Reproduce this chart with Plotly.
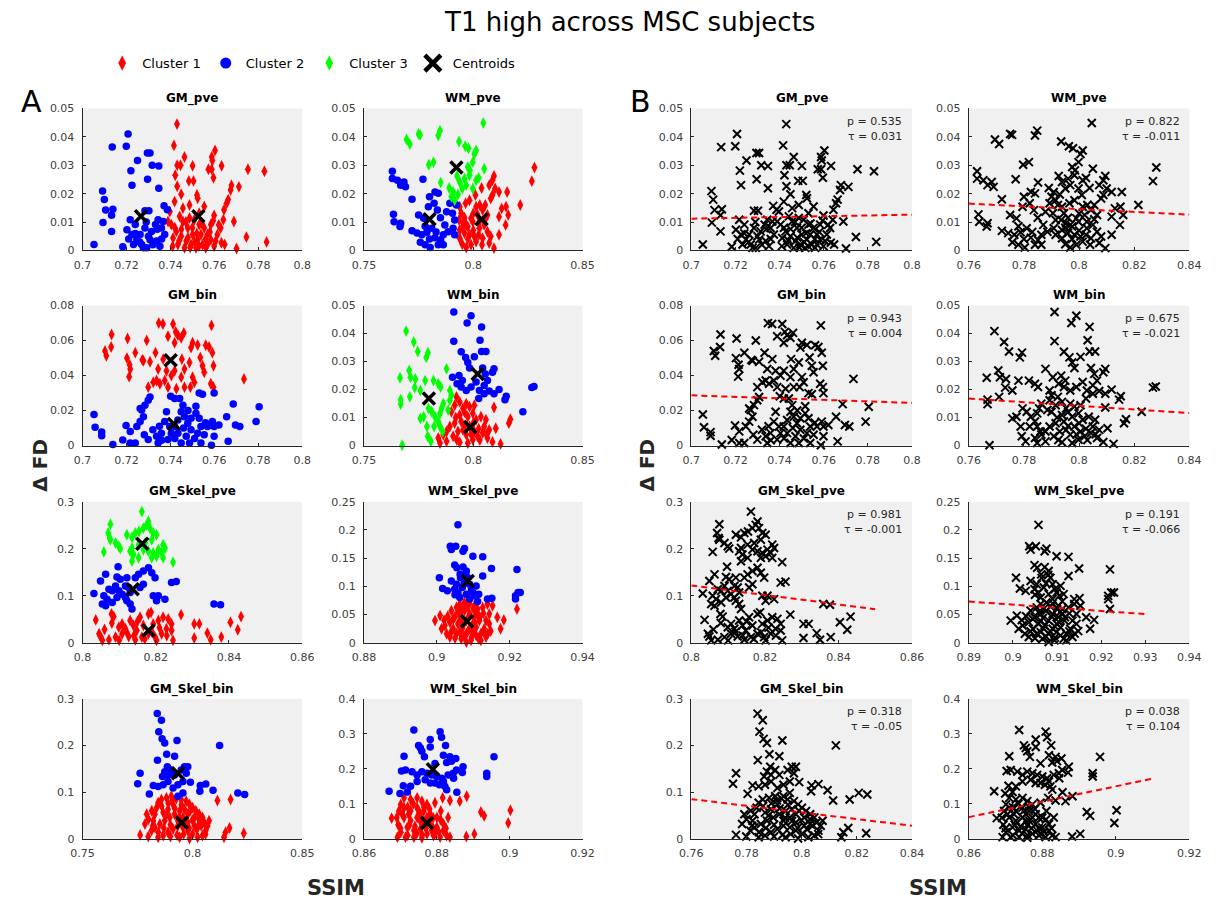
import plotly.graph_objects as go

W, H = 1220, 901

# ---------------- data (SSIM, delta FD) ----------------
GM_pve_c1 = [(0.7430,0.0445),(0.7416,0.0370),(0.7603,0.0352),(0.7588,0.0329),(0.7591,0.0317),(0.7464,0.0329),(0.7431,0.0300),(0.7446,0.0300),(0.7501,0.0298),(0.7573,0.0286),(0.7588,0.0286),(0.7633,0.0298),(0.7596,0.0256),(0.7753,0.0286),(0.7828,0.0279),(0.7422,0.0265),(0.7484,0.0245),(0.7505,0.0245),(0.7431,0.0226),(0.7678,0.0230),(0.7674,0.0213),(0.7712,0.0224),(0.7449,0.0198),(0.7521,0.0195),(0.7524,0.0184),(0.7663,0.0179),(0.7656,0.0166),(0.7419,0.0172),(0.7487,0.0160),(0.7554,0.0155),(0.7644,0.0143),(0.7457,0.0149),(0.7599,0.0123),(0.7531,0.0131),(0.7397,0.0137),(0.7641,0.0108),(0.7689,0.0102),(0.7584,0.0091),(0.7629,0.0079),(0.7404,0.0091),(0.7427,0.0067),(0.7449,0.0050),(0.7472,0.0033),(0.7494,0.0021),(0.7516,0.0009),(0.7412,0.0044),(0.7434,0.0021),(0.7464,0.0009),(0.7389,0.0102),(0.7457,0.0102),(0.7479,0.0079),(0.7501,0.0056),(0.7524,0.0038),(0.7546,0.0021),(0.7569,0.0056),(0.7554,0.0079),(0.7531,0.0091),(0.7509,0.0108),(0.7487,0.0114),(0.7442,0.0120),(0.7614,0.0056),(0.7606,0.0033),(0.7599,0.0015),(0.7584,0.0038),(0.7569,0.0021),(0.7632,0.0027),(0.7561,0.0009),(0.7539,0.0056),(0.7746,0.0047),(0.7838,0.0030),(0.7701,0.0007),(0.7647,0.0021),(0.7420,0.0080),(0.7440,0.0035),(0.7480,0.0045),(0.7500,0.0080),(0.7520,0.0060),(0.7540,0.0095),(0.7560,0.0040),(0.7580,0.0065),(0.7595,0.0105),(0.7620,0.0090),(0.7470,0.0100),(0.7490,0.0010),(0.7530,0.0015),(0.7410,0.0015),(0.7450,0.0075),(0.7510,0.0030)]
GM_pve_c2 = [(0.7207,0.0410),(0.7199,0.0367),(0.7135,0.0364),(0.7295,0.0343),(0.7307,0.0343),(0.7250,0.0317),(0.7317,0.0300),(0.7347,0.0297),(0.7220,0.0281),(0.7296,0.0251),(0.7225,0.0230),(0.7347,0.0219),(0.7091,0.0209),(0.7099,0.0179),(0.7371,0.0157),(0.7386,0.0143),(0.7105,0.0142),(0.7138,0.0145),(0.7132,0.0124),(0.7284,0.0140),(0.7302,0.0140),(0.7093,0.0098),(0.7132,0.0067),(0.7052,0.0021),(0.7183,0.0013),(0.7217,0.0108),(0.7240,0.0091),(0.7202,0.0073),(0.7225,0.0056),(0.7247,0.0038),(0.7269,0.0021),(0.7292,0.0009),(0.7314,0.0067),(0.7332,0.0091),(0.7344,0.0108),(0.7367,0.0102),(0.7374,0.0056),(0.7337,0.0033),(0.7352,0.0015),(0.7307,0.0038),(0.7262,0.0056),(0.7284,0.0079),(0.7232,0.0021),(0.7359,0.0079),(0.7277,0.0009),(0.7240,0.0060),(0.7260,0.0030),(0.7300,0.0050),(0.7320,0.0020),(0.7340,0.0075),(0.7210,0.0040),(0.7290,0.0100),(0.7360,0.0040)]
GM_pve_cent = [(0.7527,0.0120),(0.7266,0.0120)]

WM_pve_c1 = [(0.8280,0.0292),(0.8268,0.0244),(0.8215,0.0160),(0.8095,0.0262),(0.8088,0.0247),(0.8073,0.0230),(0.8100,0.0218),(0.8118,0.0206),(0.8088,0.0195),(0.8080,0.0183),(0.8038,0.0220),(0.8010,0.0195),(0.7983,0.0177),(0.7965,0.0166),(0.8155,0.0206),(0.8150,0.0154),(0.8130,0.0148),(0.8160,0.0125),(0.8118,0.0119),(0.8148,0.0090),(0.8118,0.0055),(0.8055,0.0160),(0.8043,0.0142),(0.8065,0.0125),(0.8013,0.0154),(0.8020,0.0125),(0.7990,0.0113),(0.7938,0.0154),(0.7945,0.0131),(0.7935,0.0107),(0.7953,0.0096),(0.7975,0.0084),(0.7938,0.0072),(0.7960,0.0061),(0.7983,0.0055),(0.8005,0.0049),(0.8028,0.0078),(0.8050,0.0090),(0.8065,0.0066),(0.8080,0.0049),(0.8043,0.0043),(0.8013,0.0031),(0.7990,0.0020),(0.7968,0.0010),(0.7950,0.0022),(0.8073,0.0026),(0.8095,0.0008),(0.7938,0.0043),(0.7968,0.0090),(0.7998,0.0101),(0.8028,0.0101),(0.7950,0.0080),(0.7975,0.0040),(0.8000,0.0070),(0.8025,0.0055),(0.8040,0.0020),(0.8055,0.0110),(0.8000,0.0130),(0.7960,0.0115),(0.8030,0.0160)]
WM_pve_c2 = [(0.7630,0.0279),(0.7630,0.0253),(0.7653,0.0247),(0.7683,0.0241),(0.7668,0.0230),(0.7690,0.0224),(0.7770,0.0251),(0.7720,0.0180),(0.7825,0.0206),(0.7840,0.0201),(0.7800,0.0189),(0.7821,0.0166),(0.7795,0.0154),(0.7836,0.0142),(0.7635,0.0127),(0.7638,0.0101),(0.7668,0.0096),(0.7665,0.0084),(0.7750,0.0125),(0.7773,0.0113),(0.7720,0.0069),(0.7743,0.0061),(0.7765,0.0055),(0.7788,0.0064),(0.7810,0.0078),(0.7758,0.0029),(0.7780,0.0020),(0.7803,0.0010),(0.7840,0.0020),(0.7851,0.0037),(0.7825,0.0045),(0.7863,0.0055),(0.7885,0.0066),(0.7908,0.0078),(0.7915,0.0107),(0.7905,0.0131),(0.7878,0.0136),(0.7893,0.0166),(0.7923,0.0160),(0.7915,0.0055),(0.7863,0.0020),(0.7800,0.0040),(0.7830,0.0065),(0.7870,0.0090),(0.7850,0.0115),(0.7780,0.0085)]
WM_pve_c3 = [(0.8046,0.0449),(0.7848,0.0422),(0.7840,0.0405),(0.7750,0.0410),(0.7757,0.0407),(0.7695,0.0391),(0.7710,0.0375),(0.7935,0.0384),(0.7963,0.0367),(0.7978,0.0360),(0.8013,0.0352),(0.8005,0.0340),(0.7797,0.0302),(0.7818,0.0311),(0.7998,0.0311),(0.8050,0.0288),(0.7975,0.0294),(0.7985,0.0282),(0.7926,0.0262),(0.8025,0.0255),(0.8013,0.0247),(0.7851,0.0239),(0.7938,0.0241),(0.7968,0.0230),(0.7890,0.0220),(0.7908,0.0206),(0.7900,0.0189),(0.7915,0.0177),(0.7950,0.0218),(0.7960,0.0253),(0.7983,0.0265),(0.7998,0.0218),(0.7930,0.0197)]
WM_pve_cent = [(0.8038,0.0110),(0.7800,0.0110),(0.7923,0.0292)]

GM_bin_c1 = [(0.7347,0.0700),(0.7366,0.0695),(0.7412,0.0695),(0.7587,0.0687),(0.7132,0.0635),(0.7424,0.0650),(0.7434,0.0631),(0.7461,0.0644),(0.7449,0.0616),(0.7419,0.0588),(0.7389,0.0625),(0.7205,0.0612),(0.7292,0.0601),(0.7102,0.0541),(0.7108,0.0513),(0.7130,0.0563),(0.7240,0.0531),(0.7272,0.0490),(0.7277,0.0485),(0.7307,0.0479),(0.7332,0.0531),(0.7202,0.0500),(0.7214,0.0462),(0.7217,0.0438),(0.7212,0.0394),(0.7501,0.0588),(0.7494,0.0560),(0.7524,0.0575),(0.7561,0.0573),(0.7576,0.0563),(0.7591,0.0531),(0.7536,0.0503),(0.7546,0.0456),(0.7554,0.0419),(0.7596,0.0456),(0.7487,0.0475),(0.7464,0.0438),(0.7449,0.0391),(0.7404,0.0400),(0.7382,0.0428),(0.7374,0.0372),(0.7352,0.0353),(0.7322,0.0362),(0.7299,0.0334),(0.7337,0.0372),(0.7389,0.0334),(0.7427,0.0325),(0.7464,0.0334),(0.7501,0.0391),(0.7509,0.0362),(0.7491,0.0334),(0.7596,0.0334),(0.7584,0.0353),(0.7452,0.0494),(0.7419,0.0428),(0.7367,0.0494),(0.7344,0.0438),(0.7735,0.0381)]
GM_bin_c2 = [(0.7052,0.0178),(0.7057,0.0105),(0.7087,0.0077),(0.7087,0.0056),(0.7138,0.0006),(0.7183,0.0032),(0.7198,0.0115),(0.7217,0.0081),(0.7217,0.0015),(0.7240,0.0015),(0.7247,0.0109),(0.7262,0.0137),(0.7277,0.0165),(0.7269,0.0203),(0.7262,0.0212),(0.7299,0.0259),(0.7307,0.0278),(0.7284,0.0231),(0.7281,0.0062),(0.7299,0.0034),(0.7337,0.0053),(0.7344,0.0015),(0.7359,0.0071),(0.7389,0.0034),(0.7404,0.0071),(0.7397,0.0109),(0.7374,0.0137),(0.7382,0.0193),(0.7401,0.0282),(0.7419,0.0269),(0.7442,0.0269),(0.7457,0.0231),(0.7449,0.0193),(0.7464,0.0165),(0.7479,0.0128),(0.7494,0.0090),(0.7472,0.0053),(0.7449,0.0015),(0.7487,0.0015),(0.7434,0.0071),(0.7419,0.0109),(0.7434,0.0146),(0.7494,0.0156),(0.7516,0.0225),(0.7516,0.0184),(0.7531,0.0156),(0.7539,0.0109),(0.7524,0.0071),(0.7554,0.0062),(0.7569,0.0109),(0.7591,0.0137),(0.7599,0.0109),(0.7599,0.0053),(0.7539,0.0015),(0.7587,0.0002),(0.7531,0.0300),(0.7546,0.0293),(0.7599,0.0300),(0.7621,0.0118),(0.7656,0.0165),(0.7663,0.0024),(0.7686,0.0237),(0.7696,0.0118),(0.7716,0.0109),(0.7790,0.0137),(0.7804,0.0222),(0.7320,0.0090),(0.7360,0.0030),(0.7420,0.0040),(0.7460,0.0100),(0.7510,0.0040),(0.7480,0.0200),(0.7350,0.0110),(0.7560,0.0130)]
GM_bin_cent = [(0.7401,0.0488),(0.7416,0.0124)]

WM_bin_c1 = [(0.7923,0.0174),(0.7938,0.0156),(0.7953,0.0133),(0.7968,0.0150),(0.7915,0.0144),(0.7900,0.0121),(0.7938,0.0109),(0.7983,0.0139),(0.8005,0.0144),(0.7998,0.0115),(0.7975,0.0103),(0.7945,0.0086),(0.7915,0.0080),(0.7893,0.0068),(0.7878,0.0050),(0.7863,0.0039),(0.7840,0.0027),(0.7848,0.0009),(0.7878,0.0015),(0.7908,0.0033),(0.7930,0.0050),(0.7953,0.0056),(0.7983,0.0068),(0.8013,0.0092),(0.8035,0.0103),(0.8058,0.0092),(0.8050,0.0068),(0.8073,0.0056),(0.8043,0.0045),(0.8020,0.0033),(0.7998,0.0021),(0.7975,0.0009),(0.7938,0.0012),(0.7968,0.0039),(0.8005,0.0050),(0.8065,0.0027),(0.8088,0.0013),(0.8125,0.0006),(0.8095,0.0136),(0.8170,0.0094),(0.8163,0.0080),(0.8103,0.0062),(0.7920,0.0100),(0.7960,0.0070),(0.7990,0.0040),(0.8025,0.0060),(0.8000,0.0080),(0.7925,0.0020),(0.7960,0.0120),(0.8030,0.0020),(0.8060,0.0040)]
WM_bin_c2 = [(0.7911,0.0477),(0.7990,0.0464),(0.7972,0.0438),(0.8038,0.0424),(0.7911,0.0373),(0.8031,0.0376),(0.8038,0.0336),(0.8058,0.0336),(0.7945,0.0335),(0.7965,0.0315),(0.7975,0.0297),(0.8005,0.0317),(0.7983,0.0277),(0.8043,0.0277),(0.8055,0.0256),(0.8095,0.0274),(0.8088,0.0262),(0.8065,0.0232),(0.8050,0.0215),(0.7905,0.0244),(0.7935,0.0250),(0.7950,0.0232),(0.7926,0.0221),(0.7945,0.0209),(0.7968,0.0197),(0.7990,0.0209),(0.8013,0.0227),(0.8028,0.0197),(0.8025,0.0168),(0.8050,0.0185),(0.8073,0.0195),(0.8095,0.0185),(0.8118,0.0200),(0.8151,0.0176),(0.8145,0.0164),(0.8227,0.0121),(0.8268,0.0207),(0.8278,0.0211)]
WM_bin_c3 = [(0.7693,0.0409),(0.7728,0.0370),(0.7746,0.0336),(0.7785,0.0315),(0.7793,0.0332),(0.7878,0.0274),(0.7707,0.0268),(0.7713,0.0244),(0.7735,0.0238),(0.7665,0.0242),(0.7732,0.0207),(0.7758,0.0197),(0.7780,0.0232),(0.7818,0.0232),(0.7840,0.0221),(0.7851,0.0209),(0.7710,0.0174),(0.7668,0.0164),(0.7668,0.0148),(0.7893,0.0197),(0.7900,0.0180),(0.7893,0.0162),(0.7863,0.0150),(0.7855,0.0133),(0.7885,0.0127),(0.7848,0.0115),(0.7825,0.0103),(0.7840,0.0086),(0.7821,0.0068),(0.7788,0.0068),(0.7758,0.0097),(0.7773,0.0103),(0.7795,0.0133),(0.7810,0.0121),(0.7848,0.0068),(0.7860,0.0050),(0.7792,0.0033),(0.7806,0.0015),(0.7675,0.0001)]
WM_bin_cent = [(0.7986,0.0066),(0.8020,0.0256),(0.7797,0.0168)]

GM_Skel_pve_c1 = [(0.8036,0.0485),(0.8079,0.0611),(0.8085,0.0555),(0.8180,0.0611),(0.8187,0.0646),(0.8157,0.0541),(0.8130,0.0471),(0.8108,0.0400),(0.8099,0.0330),(0.8117,0.0295),(0.8139,0.0365),(0.8148,0.0260),(0.8166,0.0365),(0.8193,0.0400),(0.8207,0.0471),(0.8220,0.0541),(0.8234,0.0506),(0.8243,0.0400),(0.8229,0.0295),(0.8216,0.0190),(0.8198,0.0119),(0.8180,0.0190),(0.8162,0.0119),(0.8144,0.0063),(0.8126,0.0133),(0.8108,0.0190),(0.8090,0.0119),(0.8072,0.0063),(0.8049,0.0133),(0.8045,0.0190),(0.8054,0.0049),(0.8243,0.0260),(0.8247,0.0049),(0.8202,0.0049),(0.8269,0.0597),(0.8305,0.0400),(0.8319,0.0400),(0.8305,0.0098),(0.8341,0.0204),(0.8350,0.0063),(0.8379,0.0119),(0.8404,0.0436),(0.8433,0.0555),(0.8424,0.0274),(0.8100,0.0050),(0.8120,0.0230),(0.8140,0.0150),(0.8170,0.0080),(0.8190,0.0220),(0.8210,0.0320),(0.8150,0.0450),(0.8060,0.0280),(0.8080,0.0420),(0.8230,0.0150)]
GM_Skel_pve_c2 = [(0.8097,0.1616),(0.8063,0.1454),(0.8049,0.1314),(0.8031,0.1047),(0.8094,0.1398),(0.8103,0.1349),(0.8121,0.1384),(0.8117,0.1208),(0.8126,0.1173),(0.8090,0.1208),(0.8081,0.1103),(0.8072,0.1138),(0.8058,0.0998),(0.8067,0.0927),(0.8054,0.0822),(0.8063,0.0787),(0.8081,0.0857),(0.8094,0.0963),(0.8108,0.1033),(0.8117,0.0963),(0.8099,0.1103),(0.8130,0.1068),(0.8130,0.0822),(0.8135,0.0717),(0.8121,0.0892),(0.8144,0.1384),(0.8153,0.1454),(0.8166,0.1525),(0.8180,0.1595),(0.8189,0.1490),(0.8198,0.1384),(0.8166,0.1244),(0.8157,0.1173),(0.8193,0.0998),(0.8207,0.0998),(0.8202,0.0892),(0.8225,0.0927),(0.8243,0.1279),(0.8256,0.1300),(0.8359,0.0822),(0.8377,0.0808)]
GM_Skel_pve_c3 = [(0.8162,0.2789),(0.8076,0.2522),(0.8070,0.2333),(0.8074,0.2227),(0.8076,0.2192),(0.8090,0.2122),(0.8099,0.2052),(0.8103,0.2002),(0.8058,0.1932),(0.8121,0.2297),(0.8135,0.2241),(0.8144,0.2333),(0.8154,0.2368),(0.8166,0.2438),(0.8180,0.2579),(0.8175,0.2508),(0.8184,0.2438),(0.8193,0.2333),(0.8202,0.2297),(0.8189,0.2192),(0.8171,0.2122),(0.8153,0.2087),(0.8135,0.2016),(0.8130,0.1946),(0.8139,0.1876),(0.8153,0.1806),(0.8135,0.1735),(0.8166,0.1981),(0.8180,0.1946),(0.8193,0.1911),(0.8207,0.1981),(0.8220,0.2087),(0.8225,0.2016),(0.8216,0.1911),(0.8202,0.1841),(0.8189,0.1806),(0.8220,0.1806),(0.8247,0.1714)]
GM_Skel_pve_cent = [(0.8180,0.0260),(0.8137,0.1138),(0.8163,0.2108)]

WM_Skel_pve_c1 = [(0.8995,0.0392),(0.9009,0.0480),(0.9013,0.0246),(0.9022,0.0304),(0.9027,0.0158),(0.9036,0.0100),(0.9040,0.0568),(0.9054,0.0626),(0.9063,0.0685),(0.9076,0.0714),(0.9090,0.0697),(0.9103,0.0656),(0.9112,0.0597),(0.9126,0.0626),(0.9139,0.0685),(0.9153,0.0656),(0.9144,0.0509),(0.9135,0.0392),(0.9130,0.0246),(0.9144,0.0334),(0.9148,0.0205),(0.9135,0.0100),(0.9121,0.0041),(0.9108,0.0129),(0.9094,0.0041),(0.9081,0.0012),(0.9067,0.0070),(0.9054,0.0158),(0.9045,0.0246),(0.9036,0.0363),(0.9049,0.0451),(0.9063,0.0509),(0.9076,0.0568),(0.9090,0.0509),(0.9103,0.0451),(0.9117,0.0392),(0.9108,0.0275),(0.9090,0.0246),(0.9072,0.0304),(0.9063,0.0392),(0.9081,0.0392),(0.9099,0.0334),(0.9063,0.0187),(0.9081,0.0158),(0.9099,0.0187),(0.9112,0.0509),(0.9121,0.0158),(0.9166,0.0451),(0.9184,0.0404),(0.9175,0.0246),(0.9220,0.0597),(0.9045,0.0420),(0.9058,0.0330),(0.9070,0.0250),(0.9085,0.0200),(0.9095,0.0290),(0.9105,0.0360),(0.9118,0.0450),(0.9128,0.0520),(0.9070,0.0600),(0.9085,0.0640),(0.9100,0.0600),(0.9058,0.0540),(0.9030,0.0470),(0.9020,0.0400),(0.9050,0.0080),(0.9075,0.0110),(0.9095,0.0090),(0.9115,0.0070),(0.9128,0.0200),(0.9140,0.0160),(0.9040,0.0200),(0.9068,0.0440),(0.9088,0.0460),(0.9108,0.0550)]
WM_Skel_pve_c2 = [(0.9058,0.2090),(0.9037,0.1710),(0.9040,0.1651),(0.9052,0.1710),(0.9076,0.1669),(0.9072,0.1622),(0.9099,0.1534),(0.9126,0.1522),(0.9049,0.1376),(0.9055,0.1329),(0.9072,0.1341),(0.9081,0.1271),(0.9064,0.1212),(0.9085,0.1153),(0.9150,0.1317),(0.9220,0.1300),(0.9126,0.1183),(0.9007,0.1153),(0.9040,0.1095),(0.9054,0.1036),(0.9070,0.0978),(0.9090,0.1036),(0.9108,0.1007),(0.9099,0.0890),(0.9115,0.0861),(0.9081,0.0861),(0.9058,0.0890),(0.9049,0.0949),(0.9063,0.0802),(0.9090,0.0773),(0.9112,0.0732),(0.9016,0.0960),(0.9029,0.0919),(0.9139,0.0773),(0.9151,0.0790),(0.9216,0.0831),(0.9223,0.0890),(0.9229,0.0890),(0.9216,0.0773),(0.9065,0.1150),(0.9075,0.1050),(0.9095,0.0950),(0.9050,0.0850),(0.9105,0.0830),(0.9080,0.1200)]
WM_Skel_pve_cent = [(0.9083,0.0381),(0.9085,0.1095)]

GM_Skel_bin_c1 = [(0.7792,0.0527),(0.7784,0.0316),(0.7762,0.0084),(0.7799,0.0049),(0.7814,0.0176),(0.7822,0.0386),(0.7829,0.0527),(0.7837,0.0667),(0.7844,0.0773),(0.7859,0.0843),(0.7882,0.0878),(0.7904,0.0913),(0.7927,0.0864),(0.7949,0.0843),(0.7972,0.0808),(0.7987,0.0738),(0.8001,0.0667),(0.8016,0.0597),(0.8031,0.0527),(0.8046,0.0457),(0.8054,0.0351),(0.8069,0.0281),(0.8076,0.0386),(0.8061,0.0176),(0.8046,0.0070),(0.8024,0.0035),(0.8001,0.0105),(0.7979,0.0176),(0.7957,0.0246),(0.7934,0.0281),(0.7912,0.0211),(0.7889,0.0141),(0.7867,0.0070),(0.7844,0.0035),(0.7829,0.0246),(0.7852,0.0316),(0.7874,0.0386),(0.7897,0.0457),(0.7919,0.0527),(0.7942,0.0597),(0.7964,0.0632),(0.7957,0.0457),(0.7934,0.0386),(0.7979,0.0351),(0.8009,0.0281),(0.8031,0.0316),(0.8009,0.0457),(0.7979,0.0527),(0.7889,0.0632),(0.7867,0.0562),(0.7912,0.0738),(0.7987,0.0005),(0.7942,0.0035),(0.8114,0.0822),(0.8174,0.0843),(0.8151,0.0141),(0.8169,0.0232),(0.8234,0.0119),(0.8144,0.0035),(0.7800,0.0420),(0.7815,0.0600),(0.7860,0.0700),(0.7880,0.0500),(0.7900,0.0300),(0.7920,0.0650),(0.7940,0.0450),(0.7965,0.0380),(0.7990,0.0600),(0.8000,0.0400),(0.8020,0.0200),(0.7960,0.0100),(0.7930,0.0080),(0.7900,0.0050),(0.7870,0.0230),(0.7845,0.0140),(0.7820,0.0280),(0.8040,0.0280),(0.8060,0.0100),(0.7985,0.0230),(0.7910,0.0820),(0.7950,0.0730),(0.7890,0.0760),(0.8030,0.0420)]
GM_Skel_bin_c2 = [(0.7840,0.2684),(0.7859,0.2543),(0.7847,0.2297),(0.7862,0.2143),(0.7874,0.2052),(0.7930,0.2108),(0.8124,0.2002),(0.7883,0.1813),(0.7919,0.1771),(0.7841,0.1686),(0.7886,0.1546),(0.7874,0.1440),(0.7864,0.1335),(0.7889,0.1370),(0.7904,0.1475),(0.7919,0.1370),(0.7949,0.1475),(0.7964,0.1546),(0.7979,0.1546),(0.7972,0.1405),(0.7957,0.1230),(0.7934,0.1159),(0.7912,0.1089),(0.7889,0.1230),(0.7867,0.1159),(0.7844,0.1124),(0.7762,0.1405),(0.7751,0.1180),(0.7804,0.0963),(0.7822,0.1145),(0.7991,0.1215),(0.8036,0.1145),(0.8061,0.1173),(0.8034,0.1019),(0.8094,0.1040),(0.7934,0.0913),(0.7957,0.0984),(0.8207,0.0984),(0.8238,0.0949)]
GM_Skel_bin_cent = [(0.7952,0.0351),(0.7934,0.1405)]

WM_Skel_bin_c1 = [(0.8676,0.0590),(0.8694,0.0403),(0.8816,0.1171),(0.8836,0.1096),(0.8863,0.1077),(0.8882,0.1218),(0.8795,0.1030),(0.8811,0.0796),(0.8831,0.0609),(0.8921,0.0768),(0.8930,0.0656),(0.9002,0.0815),(0.8996,0.0450),(0.8881,0.0066),(0.8903,0.0141),(0.8710,0.1171),(0.8728,0.1124),(0.8746,0.1171),(0.8759,0.1077),(0.8773,0.0984),(0.8710,0.0890),(0.8728,0.0796),(0.8746,0.0890),(0.8764,0.0796),(0.8782,0.0703),(0.8800,0.0609),(0.8710,0.0609),(0.8728,0.0515),(0.8746,0.0609),(0.8764,0.0515),(0.8782,0.0422),(0.8800,0.0328),(0.8818,0.0234),(0.8719,0.0328),(0.8737,0.0234),(0.8755,0.0281),(0.8773,0.0141),(0.8791,0.0094),(0.8809,0.0047),(0.8827,0.0094),(0.8701,0.0187),(0.8692,0.0047),(0.8714,0.0047),(0.8737,0.0047),(0.8759,0.0028),(0.8786,0.0234),(0.8818,0.0422),(0.8836,0.0047),(0.8696,0.0796),(0.8701,0.0984),(0.8755,0.0703),(0.8773,0.0609),(0.8723,0.0703),(0.8705,0.0700),(0.8720,0.0900),(0.8735,0.1000),(0.8750,0.0800),(0.8765,0.0900),(0.8780,0.0850),(0.8790,0.0600),(0.8810,0.0550),(0.8725,0.0400),(0.8740,0.0350),(0.8760,0.0400),(0.8770,0.0300),(0.8790,0.0300),(0.8805,0.0200),(0.8745,0.0150),(0.8760,0.0100),(0.8720,0.0100),(0.8700,0.0300),(0.8690,0.0600),(0.8825,0.0300),(0.8795,0.0150),(0.8755,0.0500)]
WM_Skel_bin_c2 = [(0.8737,0.3110),(0.8809,0.3063),(0.8813,0.2904),(0.8782,0.2838),(0.8750,0.2670),(0.8755,0.2595),(0.8759,0.2501),(0.8766,0.2342),(0.8782,0.2623),(0.8824,0.2670),(0.8710,0.2361),(0.8957,0.2342),(0.8818,0.2389),(0.8836,0.2342),(0.8852,0.2295),(0.8840,0.2220),(0.8827,0.2183),(0.8795,0.2155),(0.8703,0.1939),(0.8714,0.1967),(0.8732,0.1920),(0.8746,0.1827),(0.8759,0.1920),(0.8773,0.1874),(0.8786,0.1827),(0.8800,0.1780),(0.8813,0.1733),(0.8831,0.1827),(0.8845,0.1874),(0.8854,0.1967),(0.8872,0.2061),(0.8870,0.1892),(0.8746,0.1639),(0.8768,0.1686),(0.8782,0.1593),(0.8795,0.1593),(0.8807,0.1546),(0.8818,0.1639),(0.8822,0.1499),(0.8827,0.1405),(0.8846,0.1733),(0.8708,0.1518),(0.8728,0.1499),(0.8669,0.1358),(0.8699,0.1293),(0.8719,0.1340),(0.8855,0.1330),(0.8937,0.1874),(0.8937,0.1780)]
WM_Skel_bin_cent = [(0.8773,0.0450),(0.8789,0.1986)]

# regression (fit) line end points in B panels, and stats
fit_x = {"GM_pve": [0.70, 0.80], "WM_pve": [0.76, 0.84], "GM_bin": [0.70, 0.80], "WM_bin": [0.76, 0.84],
         "GM_Skel_pve": [0.80, 0.85], "WM_Skel_pve": [0.89, 0.93], "GM_Skel_bin": [0.76, 0.84], "WM_Skel_bin": [0.86, 0.91]}
fit_y = {"GM_pve": [0.0112, 0.0126], "WM_pve": [0.0165, 0.0126], "GM_bin": [0.0287, 0.0244], "WM_bin": [0.0168, 0.0116],
         "GM_Skel_pve": [0.1217, 0.0713], "WM_Skel_pve": [0.0730, 0.0507], "GM_Skel_bin": [0.085, 0.028], "WM_Skel_bin": [0.062, 0.172]}
p_vals = {"GM_pve": "0.535", "WM_pve": "0.822", "GM_bin": "0.943", "WM_bin": "0.675",
          "GM_Skel_pve": "0.981", "WM_Skel_pve": "0.191", "GM_Skel_bin": "0.318", "WM_Skel_bin": "0.038"}
tau_vals = {"GM_pve": "0.031", "WM_pve": "-0.011", "GM_bin": "0.004", "WM_bin": "-0.021",
            "GM_Skel_pve": "-0.001", "WM_Skel_pve": "-0.066", "GM_Skel_bin": "-0.05", "WM_Skel_bin": "0.104"}

# ticks
x_ticks_A = {"GM_pve": [0.7,0.72,0.74,0.76,0.78,0.8], "WM_pve": [0.75,0.8,0.85], "GM_bin": [0.7,0.72,0.74,0.76,0.78,0.8],
             "WM_bin": [0.75,0.8,0.85], "GM_Skel_pve": [0.8,0.82,0.84,0.86], "WM_Skel_pve": [0.88,0.9,0.92,0.94],
             "GM_Skel_bin": [0.75,0.8,0.85], "WM_Skel_bin": [0.86,0.88,0.9,0.92]}
x_ticks_B = {"GM_pve": [0.7,0.72,0.74,0.76,0.78,0.8], "WM_pve": [0.76,0.78,0.8,0.82,0.84], "GM_bin": [0.7,0.72,0.74,0.76,0.78,0.8],
             "WM_bin": [0.76,0.78,0.8,0.82,0.84], "GM_Skel_pve": [0.8,0.82,0.84,0.86], "WM_Skel_pve": [0.89,0.9,0.91,0.92,0.93,0.94],
             "GM_Skel_bin": [0.76,0.78,0.8,0.82,0.84], "WM_Skel_bin": [0.86,0.88,0.9,0.92]}
y_ticks = {"GM_pve": [0,0.01,0.02,0.03,0.04,0.05], "WM_pve": [0,0.01,0.02,0.03,0.04,0.05], "GM_bin": [0,0.02,0.04,0.06,0.08],
           "WM_bin": [0,0.01,0.02,0.03,0.04,0.05], "GM_Skel_pve": [0,0.1,0.2,0.3], "WM_Skel_pve": [0,0.05,0.1,0.15,0.2,0.25],
           "GM_Skel_bin": [0,0.1,0.2,0.3], "WM_Skel_bin": [0,0.1,0.2,0.3,0.4]}

panel_names = ["GM_pve", "WM_pve", "GM_bin", "WM_bin", "GM_Skel_pve", "WM_Skel_pve", "GM_Skel_bin", "WM_Skel_bin"]
clusters = {
    "GM_pve": [GM_pve_c1, GM_pve_c2, None], "WM_pve": [WM_pve_c1, WM_pve_c2, WM_pve_c3],
    "GM_bin": [GM_bin_c1, GM_bin_c2, None], "WM_bin": [WM_bin_c1, WM_bin_c2, WM_bin_c3],
    "GM_Skel_pve": [GM_Skel_pve_c1, GM_Skel_pve_c2, GM_Skel_pve_c3], "WM_Skel_pve": [WM_Skel_pve_c1, WM_Skel_pve_c2, None],
    "GM_Skel_bin": [GM_Skel_bin_c1, GM_Skel_bin_c2, None], "WM_Skel_bin": [WM_Skel_bin_c1, WM_Skel_bin_c2, None]}
centroids = {"GM_pve": GM_pve_cent, "WM_pve": WM_pve_cent, "GM_bin": GM_bin_cent, "WM_bin": WM_bin_cent,
             "GM_Skel_pve": GM_Skel_pve_cent, "WM_Skel_pve": WM_Skel_pve_cent, "GM_Skel_bin": GM_Skel_bin_cent,
             "WM_Skel_bin": WM_Skel_bin_cent}

# ---------------- styling / layout ----------------
FONT = "DejaVu Sans"
cl_color = ["#ff0000", "#0000ff", "#00ff00"]
cl_symbol = ["diamond-tall", "circle", "diamond-tall"]
cl_size = [8.5, 7.5, 8.5]
cl_name = ["Cluster 1", "Cluster 2", "Cluster 3"]

COLS_A = [(72, 296), (359, 582)]
COLS_B = [(693, 918), (976, 1201)]
ROWS = [(104, 248), (304, 446), (503, 646), (703, 845)]


def fmt(v):
    s = ("%.3f" % v).rstrip("0").rstrip(".")
    return "0" if s in ("0", "-0") else s


def px_x(p):
    return p / W


def px_y(p):
    return 1 - p / H


fig = go.Figure()
layout = {}
annotations = []
axis_idx = 0


def axis_style(rng, ticks, standoff):
    return dict(range=rng, tickvals=ticks, ticktext=[fmt(t) for t in ticks], showline=True, linecolor="#262626",
                linewidth=1, ticks="inside", ticklen=3, tickcolor="#262626", showgrid=False, zeroline=False,
                ticklabelstandoff=standoff,
                tickfont=dict(size=11, color="#404040", family=FONT), fixedrange=True)


for i, name in enumerate(panel_names):
    r, c = divmod(i, 2)
    yt = y_ticks[name]
    yr = [yt[0], yt[-1]]
    for side in ("A", "B"):
        axis_idx += 1
        xa = "x" if axis_idx == 1 else "x%d" % axis_idx
        ya = "y" if axis_idx == 1 else "y%d" % axis_idx
        xkey = "xaxis" if axis_idx == 1 else "xaxis%d" % axis_idx
        ykey = "yaxis" if axis_idx == 1 else "yaxis%d" % axis_idx
        cols = COLS_A if side == "A" else COLS_B
        x0, x1 = cols[c]
        t0, b0 = ROWS[r]
        xt = x_ticks_A[name] if side == "A" else x_ticks_B[name]
        xs = axis_style([xt[0], xt[-1]], xt, 4)
        xs.update(domain=[px_x(x0), px_x(x1)], anchor=ya)
        ys = axis_style(yr, yt, 5)
        ys.update(domain=[px_y(b0), px_y(t0)], anchor=xa)
        layout[xkey] = xs
        layout[ykey] = ys
        annotations.append(dict(text="<b>%s</b>" % name, x=(px_x(x0) + px_x(x1)) / 2, y=px_y(t0 - 10),
                                xref="paper", yref="paper", showarrow=False, xanchor="center", yanchor="middle",
                                font=dict(size=12, family=FONT, color="#000000")))
        if side == "A":
            for k, pts in enumerate(clusters[name]):
                if pts is None:
                    continue
                fig.add_trace(go.Scatter(x=[p[0] for p in pts], y=[p[1] for p in pts], mode="markers",
                                         xaxis=xa, yaxis=ya, showlegend=False, cliponaxis=False,
                                         marker=dict(symbol=cl_symbol[k], size=cl_size[k], color=cl_color[k],
                                                     line=dict(width=0))))
            cen = centroids[name]
            fig.add_trace(go.Scatter(x=[p[0] for p in cen], y=[p[1] for p in cen], mode="markers",
                                     xaxis=xa, yaxis=ya, showlegend=False, cliponaxis=False,
                                     marker=dict(symbol="x-thin", size=12, color="black",
                                                 line=dict(width=3.5, color="black"))))
        else:
            allx, ally = [], []
            for pts in clusters[name]:
                if pts is None:
                    continue
                allx += [p[0] for p in pts]
                ally += [p[1] for p in pts]
            fig.add_trace(go.Scatter(x=allx, y=ally, mode="markers", xaxis=xa, yaxis=ya, showlegend=False,
                                     cliponaxis=False,
                                     marker=dict(symbol="x-thin", size=8, color="black",
                                                 line=dict(width=2, color="black"))))
            fig.add_trace(go.Scatter(x=fit_x[name], y=fit_y[name], mode="lines", xaxis=xa, yaxis=ya,
                                     showlegend=False, line=dict(color="#ff0000", width=2, dash="6px,4px")))
            annotations.append(dict(text="p = %s" % p_vals[name], x=px_x(x1 - 8), y=px_y(t0 + 13),
                                    xref="paper", yref="paper", showarrow=False, xanchor="right", yanchor="middle",
                                    font=dict(size=11, family=FONT, color="#262626")))
            annotations.append(dict(text="τ = %s" % tau_vals[name], x=px_x(x1 - 8), y=px_y(t0 + 28),
                                    xref="paper", yref="paper", showarrow=False, xanchor="right", yanchor="middle",
                                    font=dict(size=11, family=FONT, color="#262626")))

# legend entries
for k in range(3):
    fig.add_trace(go.Scatter(x=[None], y=[None], mode="markers", name=cl_name[k], showlegend=True,
                             marker=dict(symbol=cl_symbol[k], size=11, color=cl_color[k], line=dict(width=0))))
fig.add_trace(go.Scatter(x=[None], y=[None], mode="markers", name="Centroids", showlegend=True,
                         marker=dict(symbol="x-thin", size=16, color="black", line=dict(width=4.5, color="black"))))

# big labels
annotations += [
    dict(text="T1 high across MSC subjects", x=px_x(630), y=px_y(16), xref="paper", yref="paper", showarrow=False,
         xanchor="center", yanchor="middle", font=dict(size=26, family=FONT, color="#000000")),
    dict(text="A", x=px_x(20), y=px_y(97), xref="paper", yref="paper", showarrow=False,
         xanchor="center", yanchor="middle", font=dict(size=30, family=FONT, color="#000000")),
    dict(text="B", x=px_x(641), y=px_y(97), xref="paper", yref="paper", showarrow=False,
         xanchor="center", yanchor="middle", font=dict(size=30, family=FONT, color="#000000")),
    dict(text="<b>Δ FD</b>", x=px_x(29), y=px_y(466), xref="paper", yref="paper", showarrow=False, textangle=-90,
         xanchor="center", yanchor="middle", font=dict(size=20, family=FONT, color="#262626")),
    dict(text="<b>Δ FD</b>", x=px_x(648), y=px_y(466), xref="paper", yref="paper", showarrow=False, textangle=-90,
         xanchor="center", yanchor="middle", font=dict(size=20, family=FONT, color="#262626")),
    dict(text="<b>SSIM</b>", x=px_x(330), y=px_y(895), xref="paper", yref="paper", showarrow=False,
         xanchor="center", yanchor="middle", font=dict(size=21, family=FONT, color="#262626")),
    dict(text="<b>SSIM</b>", x=px_x(945), y=px_y(895), xref="paper", yref="paper", showarrow=False,
         xanchor="center", yanchor="middle", font=dict(size=21, family=FONT, color="#262626")),
]

fig.update_layout(
    width=W, height=H, margin=dict(l=0, r=0, t=0, b=0, pad=0),
    paper_bgcolor="white", plot_bgcolor="#f0f0f0",
    font=dict(family=FONT),
    showlegend=True,
    legend=dict(orientation="h", x=px_x(92), y=px_y(58), xanchor="left", yanchor="middle",
                font=dict(size=13, family=FONT, color="#000000"), bgcolor="rgba(0,0,0,0)",
                itemwidth=30, tracegroupgap=0),
    annotations=annotations,
    **layout,
)

fig.write_html("out.html")
